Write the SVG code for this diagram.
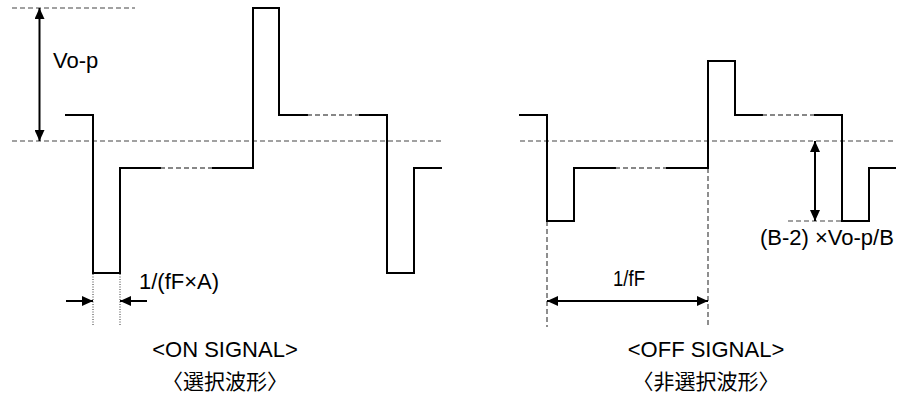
<svg xmlns="http://www.w3.org/2000/svg" width="901" height="394" viewBox="0 0 901 394">
<defs>
<marker id="ah" markerUnits="userSpaceOnUse" markerWidth="12" markerHeight="10" refX="11" refY="5" orient="auto-start-reverse" viewBox="0 0 12 10">
<path d="M0,0 L11,5 L0,10 z" fill="#000"/>
</marker>
<style>
.wave{fill:none;stroke:#000;stroke-width:2;stroke-linejoin:miter;stroke-linecap:square}
.wdash{fill:none;stroke:#111;stroke-width:1.2;stroke-dasharray:5,3}
.ref{fill:none;stroke:#444;stroke-width:1.2;stroke-dasharray:5,3}
.dot{fill:none;stroke:#333;stroke-width:1;stroke-dasharray:1,1.5}
.arr{fill:none;stroke:#000;stroke-width:2}
.t{font-family:"Liberation Sans",Arial,sans-serif;font-size:22px;fill:#000}
.cjk{font-family:"Noto Sans CJK JP","Noto Sans CJK SC",sans-serif;font-size:21px;fill:#000}
</style>
</defs>
<rect width="901" height="394" fill="#fff"/>
<g id="connectors">
<path class="ref" d="M12,8 H135"/>
<path class="ref" d="M12,141 H441"/>
<path class="ref" d="M520,141 H893"/>
<path class="ref" d="M788,221 H842"/>
<path class="ref" d="M547,221 V327"/>
<path class="ref" d="M708,168 V327"/>
<path class="dot" d="M93,274 V325"/>
<path class="dot" d="M120,274 V325"/>
<path class="arr" d="M39.5,8 V141" marker-start="url(#ah)" marker-end="url(#ah)"/>
<path class="arr" d="M66,301 H93" marker-end="url(#ah)"/>
<path class="arr" d="M147,301 H120" marker-end="url(#ah)"/>
<path class="arr" d="M547,301 H708" marker-start="url(#ah)" marker-end="url(#ah)"/>
<path class="arr" d="M815,141 V221" marker-start="url(#ah)" marker-end="url(#ah)"/>
</g>
<g id="on-signal">
<path class="wave" d="M66,115 H93 V273 H120 V168 H160"/>
<path class="wdash" d="M160,168 H213"/>
<path class="wave" d="M213,168 H253 V8 H279 V115 H307"/>
<path class="wdash" d="M307,115 H360"/>
<path class="wave" d="M360,115 H387 V273 H414 V168 H441"/>
</g>
<g id="off-signal">
<path class="wave" d="M520,115 H547 V221 H574 V168 H615"/>
<path class="wdash" d="M615,168 H667"/>
<path class="wave" d="M667,168 H708 V61 H735 V115 H762"/>
<path class="wdash" d="M762,115 H815"/>
<path class="wave" d="M815,115 H842 V221 H869 V168 H895"/>
</g>
<g id="labels">
<text class="t" x="53" y="68">Vo-p</text>
<text class="t" x="139" y="289">1/(fF×A)</text>
<text class="t" x="613" y="286" textLength="32" lengthAdjust="spacingAndGlyphs">1/fF</text>
<text class="t" x="760" y="245">(B-2) ×Vo-p/B</text>
<text class="t" x="225" y="357" text-anchor="middle">&lt;ON SIGNAL&gt;</text>
<text class="cjk" x="225" y="389" text-anchor="middle">〈選択波形〉</text>
<text class="t" x="706" y="357" text-anchor="middle">&lt;OFF SIGNAL&gt;</text>
<text class="cjk" x="706" y="389" text-anchor="middle">〈非選択波形〉</text>
</g>
</svg>
